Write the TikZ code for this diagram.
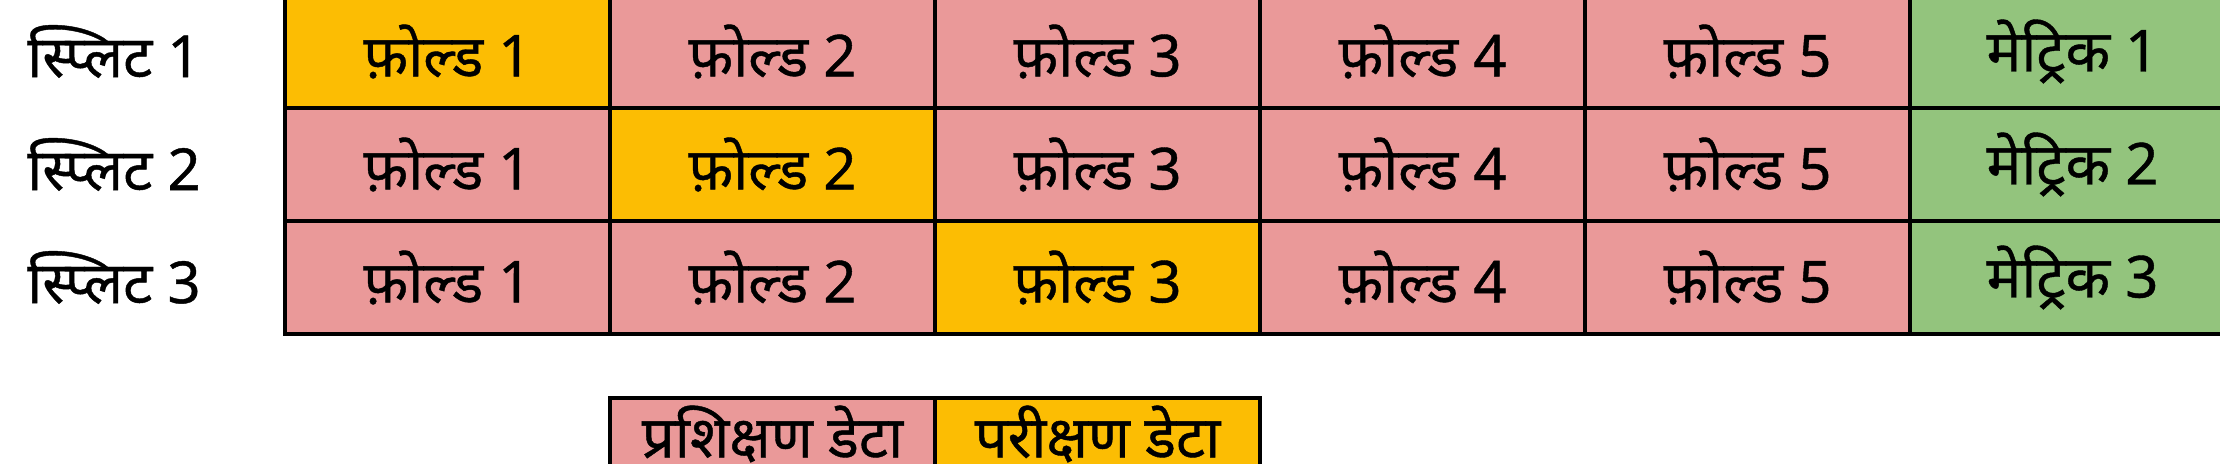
\documentclass[tikz,border=0pt]{standalone}
\usepackage{fontspec}
\newfontfamily\devfont[Script=Devanagari,FakeBold=0.7]{Noto Sans}
\usepackage{tikz}
\usetikzlibrary{positioning}
\definecolor{trainpink}{RGB}{234,153,153}
\definecolor{testyellow}{RGB}{252,189,3}
\definecolor{metricgreen}{RGB}{147,196,125}

\begin{document}
\begin{tikzpicture}[
    node distance=0pt,
    cellnode/.style={rectangle, draw=black, line width=1.6pt, outer sep=0pt, minimum width=162.5pt, minimum height=56.5pt, font=\devfont\fontsize{29}{32}\selectfont},
    trainnode/.style={cellnode, fill=trainpink},
    testnode/.style={cellnode, fill=testyellow},
    metricnode/.style={cellnode, fill=metricgreen},
    legendnode/.style={cellnode, minimum height=36pt},
    splitlabel/.style={inner sep=0pt, font=\devfont\fontsize{29}{32}\selectfont},
    ]
    \useasboundingbox (0,0) rectangle (1110pt,-232pt);
    %Split 1
    \node[testnode, anchor=north west] (s1f1) at (142.5pt,2.5pt) {फ़ोल्ड 1};
    \node[trainnode]  (s1f2) [right=of s1f1] {फ़ोल्ड 2};
    \node[trainnode]  (s1f3) [right=of s1f2] {फ़ोल्ड 3};
    \node[trainnode]  (s1f4) [right=of s1f3] {फ़ोल्ड 4};
    \node[trainnode]  (s1f5) [right=of s1f4] {फ़ोल्ड 5};
    \node[metricnode] (s1m)  [right=of s1f5] {मेट्रिक 1};
    %Split 2
    \node[trainnode]  (s2f1) [below=of s1f1] {फ़ोल्ड 1};
    \node[testnode]   (s2f2) [right=of s2f1] {फ़ोल्ड 2};
    \node[trainnode]  (s2f3) [right=of s2f2] {फ़ोल्ड 3};
    \node[trainnode]  (s2f4) [right=of s2f3] {फ़ोल्ड 4};
    \node[trainnode]  (s2f5) [right=of s2f4] {फ़ोल्ड 5};
    \node[metricnode] (s2m)  [right=of s2f5] {मेट्रिक 2};
    %Split 3
    \node[trainnode]  (s3f1) [below=of s2f1] {फ़ोल्ड 1};
    \node[trainnode]  (s3f2) [right=of s3f1] {फ़ोल्ड 2};
    \node[testnode]   (s3f3) [right=of s3f2] {फ़ोल्ड 3};
    \node[trainnode]  (s3f4) [right=of s3f3] {फ़ोल्ड 4};
    \node[trainnode]  (s3f5) [right=of s3f4] {फ़ोल्ड 5};
    \node[metricnode] (s3m)  [right=of s3f5] {मेट्रिक 3};

    %Row labels
    \node[splitlabel] (split1) [left=42pt of s1f1] {स्प्लिट 1};
    \node[splitlabel] (split2) [left=42pt of s2f1] {स्प्लिट 2};
    \node[splitlabel] (split3) [left=42pt of s3f1] {स्प्लिट 3};

    %Legend
    \node[legendnode, fill=trainpink, anchor=north]  (trainkey) at ([yshift=-32pt]s3f2.south) {प्रशिक्षण डेटा};
    \node[legendnode, fill=testyellow] (testkey) [right=of trainkey] {परीक्षण डेटा};
\end{tikzpicture}
\end{document}
